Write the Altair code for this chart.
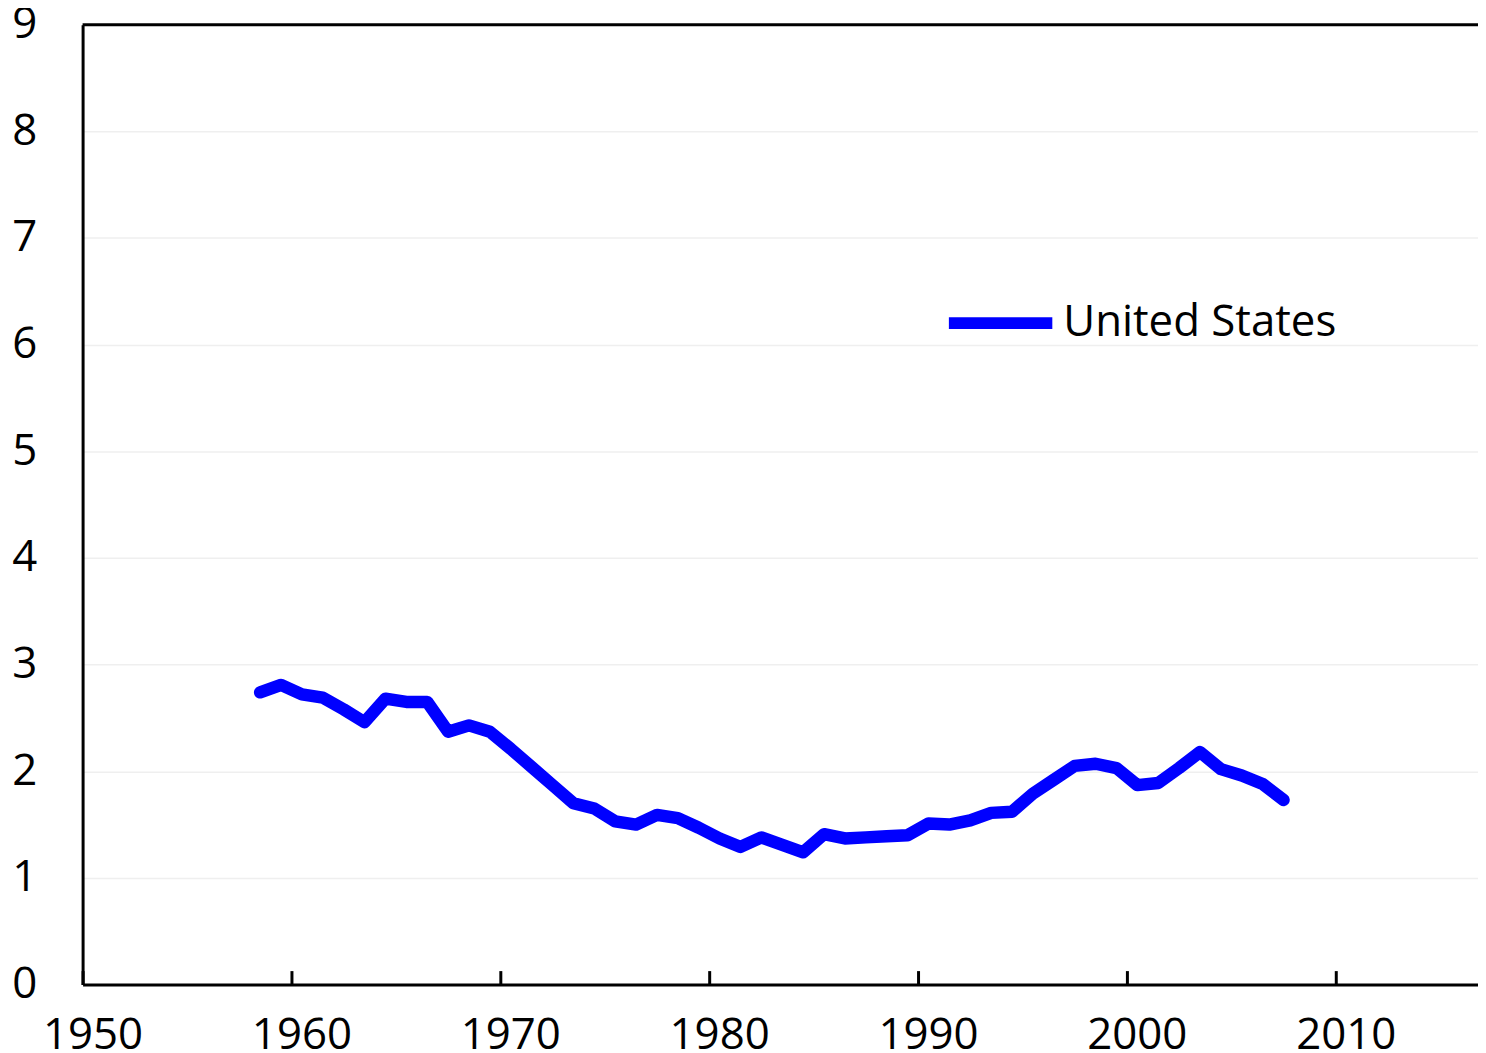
import altair as alt
import pandas as pd

years = list(range(1958, 2008))
values = [2.74, 2.81, 2.72, 2.69, 2.58, 2.46, 2.68, 2.65, 2.65, 2.37,
          2.43, 2.37, 2.21, 2.04, 1.87, 1.70, 1.65, 1.53, 1.50, 1.59,
          1.56, 1.47, 1.37, 1.29, 1.38, 1.31, 1.24, 1.41, 1.37, 1.38,
          1.39, 1.40, 1.51, 1.50, 1.54, 1.61, 1.62, 1.79, 1.92, 2.05,
          2.07, 2.03, 1.87, 1.89, 2.03, 2.18, 2.02, 1.96, 1.88, 1.73]
series_name = "United States"
x_ticks = [1950, 1960, 1970, 1980, 1990, 2000, 2010]
y_ticks = [0, 1, 2, 3, 4, 5, 6, 7, 8, 9]

df = pd.DataFrame({"year": years, "value": values, "series": series_name})

FONT = "Open Sans"
FS = 44
W, H = 1403, 965
x_dom = [1950, 1950 + W / 21.0]

xscale = alt.Scale(domain=x_dom, nice=False, zero=False)
yscale = alt.Scale(domain=[0, 9], nice=False)

line = alt.Chart(df).transform_calculate(
    xpos="datum.year + 0.5"
).mark_line(strokeWidth=12.5, strokeCap="round", strokeJoin="round").encode(
    x=alt.X("xpos:Q", scale=xscale, axis=alt.Axis(
        values=x_ticks, format="d", title=None, ticks=False, tickSize=0,
        labelPadding=29, labelOffset=10, labelFontSize=FS, labelFont=FONT,
        labelColor="black", domainColor="black", domainWidth=3, grid=False,
        labelFlush=False)),
    y=alt.Y("value:Q", scale=yscale, axis=alt.Axis(
        values=y_ticks, format="d", title=None, ticks=False, labelPadding=46,
        labelFontSize=FS, labelFont=FONT, labelColor="black",
        domainColor="black", domainWidth=3, grid=True,
        gridColor="#EFEFEF", gridWidth=1.5, labelFlush=False)),
    color=alt.Color("series:N", scale=alt.Scale(domain=[series_name], range=["#0000FF"]),
                    legend=alt.Legend(title=None, orient="none", legendX=865, legendY=242,
                                      symbolType="stroke", symbolSize=10816,
                                      symbolStrokeWidth=12, labelFontSize=FS,
                                      labelFont=FONT, labelColor="black", labelLimit=800,
                                      labelOffset=5, padding=0, symbolOffset=0))
)

# inward tick marks on the bottom edge (a top-oriented axis moved to the bottom)
ticks_layer = alt.Chart(pd.DataFrame({"t": x_ticks})).mark_point(opacity=0).encode(
    x=alt.X("t:Q", scale=xscale, axis=alt.Axis(
        orient="top", offset=-H, values=x_ticks, labels=False, domain=False,
        ticks=True, tickSize=14, tickWidth=3, tickColor="black", grid=False, title=None))
)

top_border = alt.Chart(pd.DataFrame({"v": [9]})).mark_rule(color="black", strokeWidth=3).encode(
    y=alt.Y("v:Q", scale=yscale)
)

chart = alt.layer(line, ticks_layer, top_border).resolve_axis(x="independent").properties(
    width=W, height=H,
    padding={"left": 75, "top": 14, "right": 0, "bottom": 66},
    autosize=alt.AutoSizeParams(type="none"),
).configure_view(stroke=None).configure(background="white")

chart.save("out.html", embed_options={"renderer": "svg", "actions": False})
